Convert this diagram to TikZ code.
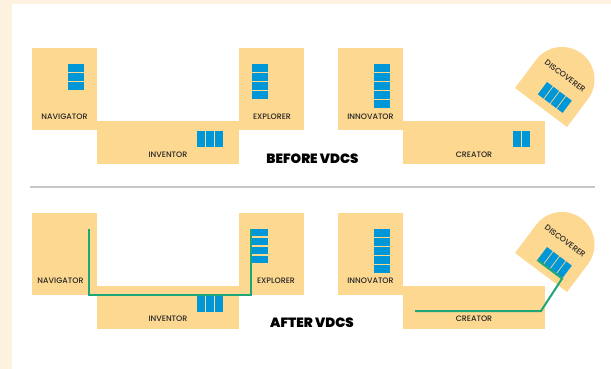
\documentclass[tikz,border=0pt]{standalone}
\usepackage{fontspec}
\IfFontExistsTF{Poppins Medium}
  {\setmainfont{Poppins Medium}[BoldFont={Poppins Bold}]}
  {\setmainfont{Poppins}}
\IfFontExistsTF{Poppins Black}
  {\newfontfamily\headfont{Poppins Black}}
  {\newfontfamily\headfont{Poppins}[UprightFont=*-Bold]}
\definecolor{cream}{HTML}{FDF1E0}
\definecolor{sand}{HTML}{FDD890}
\definecolor{cellblue}{HTML}{0097D9}
\definecolor{path}{HTML}{1EA676}
\definecolor{rule}{HTML}{C6C6C6}
\tikzset{
  box/.style={fill=sand, draw=none, inner sep=0pt, anchor=north west},
  roomlabel/.style={font=\fontsize{7.9}{9}\selectfont, text=black!85, inner sep=0pt},
  heading/.style={font=\headfont\fontsize{13.4}{15}\selectfont, inner sep=0pt},
  cell/.style={fill=cellblue, draw=none},
  route/.style={draw=path, line width=2pt, line join=miter},
}
% vertical stack of n cells with its top-left corner at (#1,#2)
\newcommand{\vstack}[3]{%
  \foreach \i in {1,...,#3}{\fill[cellblue] (#1,{#2+9*(\i-1)}) rectangle ++(16,7.9);}}
% horizontal row of n cells with its top-left corner at (#1,#2)
\newcommand{\hrow}[3]{%
  \foreach \i in {1,...,#3}{\fill[cellblue] ({#1+9.2*(\i-1)},#2) rectangle ++(7.9,16);}}
% the rounded DISCOVERER room, tilted, with its lower-left corner at (#1,#2)
\newcommand{\discroom}[2]{%
  \begin{scope}[shift={(#1,#2)}, rotate=-36.87, transform shape]
    \fill[sand] (0,0) -- (65,0) -- (65,-35)
      arc[start angle=0, end angle=180, radius=32.5pt] -- (0,-35) -- cycle;
    \foreach \i in {1,...,4}{\fill[cellblue] ({22+8*(\i-1)},-8.6) rectangle ++(7,-15.4);}
    \node[roomlabel] at (33,-39.5) {DISCOVERER};
  \end{scope}}
\begin{document}
\begin{tikzpicture}[x=1pt, y=-1pt]
  \useasboundingbox (0,0) rectangle (611,369);
  \fill[cream] (0,0) rectangle (611,369);
  \fill[white] (12,4) rectangle (611,369);

  % ---------- before ----------
  \node[box, minimum width=65pt, minimum height=82pt] (nav1) at (32,48) {};
  \node[box, minimum width=142pt, minimum height=43pt] (inv1) at (97,121) {};
  \node[box, minimum width=65pt, minimum height=82pt] (exp1) at (239,48) {};
  \node[box, minimum width=65pt, minimum height=82pt] (inn1) at (338,48) {};
  \node[box, minimum width=142pt, minimum height=43pt] (cre1) at (403,121) {};
  \discroom{515}{88}

  \vstack{68}{64}{3}
  \vstack{252}{64}{4}
  \vstack{374}{64}{5}
  \hrow{197}{131}{3}
  \hrow{513}{131}{2}

  \node[roomlabel] (nav1l) at (64.5,117) {NAVIGATOR};
  \node[roomlabel] (exp1l) at (272,117) {EXPLORER};
  \node[roomlabel] (inn1l) at (370.5,117) {INNOVATOR};
  \node[roomlabel] (inv1l) at (168,155) {INVENTOR};
  \node[roomlabel] (cre1l) at (474,155) {CREATOR};
  \node[heading] (before) at (312.5,159) {BEFORE VDCS};

  \draw[rule, line width=1.4pt] (30,187) -- (595,187);

  % ---------- after ----------
  \node[box, minimum width=65pt, minimum height=82pt] (nav2) at (32,213) {};
  \node[box, minimum width=142pt, minimum height=43pt] (inv2) at (97,286) {};
  \node[box, minimum width=65pt, minimum height=82pt] (exp2) at (239,213) {};
  \node[box, minimum width=65pt, minimum height=82pt] (inn2) at (338,213) {};
  \node[box, minimum width=142pt, minimum height=43pt] (cre2) at (403,286) {};
  \discroom{515}{253}

  \vstack{252}{228.5}{4}
  \vstack{374}{229}{5}
  \hrow{197}{296}{3}

  \node[roomlabel] (nav2l) at (60.5,281) {NAVIGATOR};
  \node[roomlabel] (exp2l) at (276,281) {EXPLORER};
  \node[roomlabel] (inn2l) at (370.5,281) {INNOVATOR};
  \node[roomlabel] (inv2l) at (168,319) {INVENTOR};
  \node[roomlabel] (cre2l) at (474,319) {CREATOR};
  \node[heading] (after) at (312,323) {AFTER VDCS};

  % route through navigator, inventor and explorer
  \coordinate (navIn) at (89,229);
  \coordinate (expIn) at (251,229);
  \draw[route] (navIn) |- (251,295) -- (expIn);

  % route from creator up into the discoverer cells
  \coordinate (creIn) at (415,311);
  \coordinate (bend) at (541,311);
  \begin{scope}[shift={(515,253)}, rotate=-36.87]
    \coordinate (discA) at (53,-7.8);
    \coordinate (discB) at (22,-7.8);
  \end{scope}
  \draw[route] (creIn) -- (bend) -- (discA) -- (discB);
\end{tikzpicture}
\end{document}
